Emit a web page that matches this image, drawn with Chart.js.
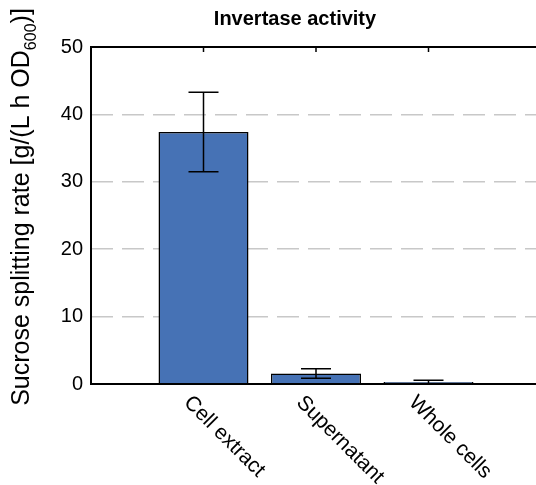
<!DOCTYPE html>
<html>
<head>
<meta charset="utf-8">
<script src="https://cdn.jsdelivr.net/npm/chart.js@4.4.0/dist/chart.umd.min.js"></script>
<style>
  html, body { margin: 0; padding: 0; background: #fff; overflow: hidden; }
  canvas { display: block; }
</style>
</head>
<body>
<canvas id="chart" width="545" height="485"></canvas>
<script>
let categories = ["Cell extract", "Supernatant", "Whole cells"];
let rates = [37.4, 1.55, 0.3];
let errors = [5.9, 0.7, 0.25];
let yTicks = [0, 10, 20, 30, 40, 50];
let chartTitle = "Invertase activity";
let yTitleParts = ["Sucrose splitting rate [g/(L h OD", "600", ")]"];

const FONT = "'Liberation Sans', Arial, Helvetica, sans-serif";

// title, axis box, error bars, rotated category labels and the y title
const decorations = {
    id: "decorations",
    afterDatasetsDraw(chart) {
        const ctx = chart.ctx;
        const a = chart.chartArea;
        const x = chart.scales.x;
        const y = chart.scales.y;

        ctx.save();

        // error bars
        ctx.strokeStyle = "#000";
        ctx.lineWidth = 1.5;
        rates.forEach((v, i) => {
            let px = x.getPixelForValue(i + 1);
            let top = y.getPixelForValue(v + errors[i]);
            let bot = y.getPixelForValue(v - errors[i]);
            ctx.beginPath();
            ctx.moveTo(px, top); ctx.lineTo(px, bot);
            ctx.moveTo(px - 15, top); ctx.lineTo(px + 15, top);
            ctx.moveTo(px - 15, bot); ctx.lineTo(px + 15, bot);
            ctx.stroke();
        });

        // axes (open on the right, cut by the window)
        ctx.lineWidth = 2;
        ctx.beginPath();
        ctx.moveTo(a.right + 10, a.top);
        ctx.lineTo(a.left, a.top);
        ctx.lineTo(a.left, a.bottom);
        ctx.lineTo(a.right + 10, a.bottom);
        ctx.stroke();

        // small ticks hanging from the top edge
        ctx.lineWidth = 1.5;
        categories.forEach((c, i) => {
            let px = x.getPixelForValue(i + 1);
            ctx.beginPath();
            ctx.moveTo(px, a.top);
            ctx.lineTo(px, a.top + 5);
            ctx.stroke();
        });

        // category labels, rotated 45 degrees clockwise
        ctx.fillStyle = "#000";
        ctx.font = "21px " + FONT;
        ctx.textAlign = "left";
        ctx.textBaseline = "alphabetic";
        categories.forEach((c, i) => {
            let px = x.getPixelForValue(i + 1);
            ctx.save();
            ctx.translate(px - 20.5, a.bottom + 19.5);
            ctx.rotate(Math.PI / 4);
            ctx.fillText(c, 0, 0);
            ctx.restore();
        });

        // title
        ctx.font = "bold 20px " + FONT;
        ctx.textAlign = "center";
        ctx.fillText(chartTitle, 295, 25);

        // y title with subscript
        let mainFont = "25px " + FONT;
        let subFont = "16px " + FONT;
        ctx.font = mainFont;
        let w0 = ctx.measureText(yTitleParts[0]).width;
        let w2 = ctx.measureText(yTitleParts[2]).width;
        ctx.font = subFont;
        let w1 = ctx.measureText(yTitleParts[1]).width;
        let total = w0 + w1 + w2;

        ctx.save();
        ctx.translate(29, 207 + total / 2);
        ctx.rotate(-Math.PI / 2);
        ctx.textAlign = "left";
        ctx.font = mainFont;
        ctx.fillText(yTitleParts[0], 0, 0);
        ctx.font = subFont;
        ctx.fillText(yTitleParts[1], w0, 7);
        ctx.font = mainFont;
        ctx.fillText(yTitleParts[2], w0 + w1, 0);
        ctx.restore();

        ctx.restore();
    }
};

new Chart(document.getElementById("chart"), {
    type: "bar",
    data: {
        datasets: [{
            data: rates.map((v, i) => ({ x: i + 1, y: v })),
            backgroundColor: "#4672b5",
            borderColor: "#000",
            borderWidth: 1.5,
            barPercentage: 0.8,
            categoryPercentage: 1
        }]
    },
    options: {
        responsive: false,
        animation: false,
        events: [],
        layout: { padding: { top: 47, right: 4, left: 0, bottom: 0 } },
        plugins: {
            legend: { display: false },
            tooltip: { enabled: false }
        },
        scales: {
            x: {
                type: "linear",
                min: 0,
                max: 4,
                offset: false,
                afterBuildTicks(scale) {
                    scale.ticks = [0, 1, 2, 3, 4].map(v => ({ value: v }));
                },
                grid: { display: false },
                border: { display: false },
                ticks: { display: false },
                afterFit(scale) { scale.height = 101; }
            },
            y: {
                min: 0,
                max: 50,
                afterBuildTicks(scale) {
                    scale.ticks = yTicks.map(v => ({ value: v }));
                },
                ticks: {
                    color: "#000",
                    padding: 8,
                    font: { family: FONT, size: 20 }
                },
                grid: {
                    drawTicks: false,
                    lineWidth: 1.5,
                    color: ctx => (ctx.tick && (ctx.tick.value === 0 || ctx.tick.value === 50)) ? "rgba(0,0,0,0)" : "#c8c8c8"
                },
                border: { display: false, dash: [22, 9] },
                afterFit(scale) { scale.width = 91; }
            }
        }
    },
    plugins: [decorations]
});
</script>
</body>
</html>
